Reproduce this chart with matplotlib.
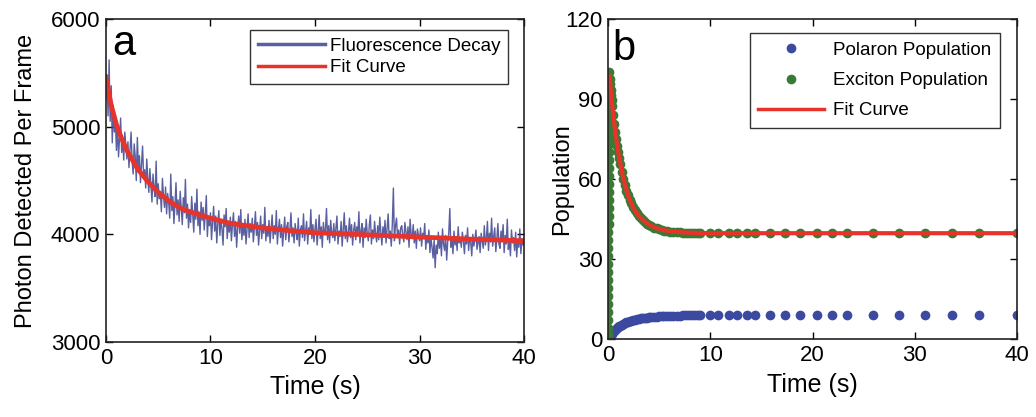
import numpy as np
import matplotlib
matplotlib.use("Agg")
import matplotlib.pyplot as plt

plt.rcParams['font.family'] = ['Liberation Sans', 'DejaVu Sans']

# ---- panel a: fluorescence trace (0.1 s per frame) ----
decay_counts = [
    5250, 5480, 5100, 5620, 5050, 5380, 4850, 5200, 4950, 5060, 4780, 5010, 4720, 4900, 5080, 4760, 4880, 4690, 4950, 4820,
    4700, 4860, 4620, 4790, 4950, 4680, 4560, 4840, 4720, 4500, 4900, 4610, 4730, 4480, 4650, 4820, 4540, 4600, 4430, 4700,
    4520, 4390, 4610, 4450, 4300, 4560, 4420, 4350, 4680, 4280, 4470, 4330, 4400, 4210, 4520, 4360, 4250, 4440, 4190, 4380,
    4300, 4150, 4560, 4220, 4350, 4100, 4280, 4480, 4180, 4320, 4120, 4400, 4250, 4090, 4340, 4200, 4510, 4150, 4280, 4060,
    4230, 4110, 4350, 4180, 4020, 4290, 4140, 4420, 4080, 4210, 4000, 4300, 4130, 4250, 4040, 4190, 4360, 3980, 4150, 4080,
    4200, 3950, 4120, 4260, 4030, 4170, 3920, 4100, 4220, 3990, 4140, 4050, 3900, 4180, 4070, 4240, 3960, 4110, 4020, 4160,
    3940, 4090, 4200, 3980, 4120, 3880, 4060, 4170, 4010, 4230, 3950, 4080, 3990, 4140, 3910, 4050, 4190, 3970, 4100, 4020,
    4150, 3930, 4060, 4210, 3990, 4110, 3900, 4040, 4170, 3960, 4090, 4010, 4250, 3940, 4070, 3980, 4130, 3920, 4050, 4180,
    3960, 4080, 4000, 4220, 3910, 4050, 4140, 3970, 4090, 3890, 4030, 4160, 3950, 4070, 4110, 3930, 4040, 4200, 3980, 4060,
    3920, 4100, 4010, 3950, 4150, 3890, 4040, 4080, 3970, 4190, 3940, 4030, 4120, 3910, 4060, 4000, 4230, 3960, 4090, 3930,
    4050, 4140, 3900, 4020, 4180, 3960, 4070, 3880, 4110, 4000, 4040, 4240, 3950, 4080, 3920, 4130, 4010, 3970, 4100, 3940,
    4060, 4170, 3910, 4030, 3980, 4120, 3890, 4050, 4200, 3960, 4080, 3930, 4020, 4150, 3970, 4090, 3900, 4040, 4110, 3950,
    4070, 3990, 4210, 3920, 4030, 4100, 3880, 4060, 3970, 4140, 4010, 3940, 4090, 4180, 3910, 4040, 3960, 4120, 4000, 3930,
    4080, 3950, 4160, 4020, 3900, 4070, 3980, 4130, 3920, 4050, 4190, 3960, 4030, 3890, 4100, 4430, 3940, 4080, 4150, 3970,
    4040, 3910, 4060, 4080, 3990, 3930, 4110, 4020, 3950, 4070, 3880, 4140, 4000, 3960, 4090, 3920, 4030, 3870, 4050, 3990,
    3940, 4060, 3890, 4010, 3970, 4100, 3860, 3990, 3920, 4040, 3830, 3960, 3880, 3780, 3950, 3690, 3900, 3820, 4020, 3870,
    3960, 3800, 4050, 3910, 3850, 3990, 3760, 3930, 4010, 4240, 3880, 3960, 3820, 4030, 3900, 3980, 3850, 4070, 3920, 3960,
    3880, 4020, 3940, 3820, 3990, 3910, 4060, 3850, 3970, 3930, 3800, 4000, 3890, 3950, 4040, 3860, 3920, 3980, 3830, 4010,
    3940, 3870, 4080, 3900, 3960, 4120, 3850, 4010, 3930, 4150, 3890, 3980, 4060, 3840, 3950, 4100, 3910, 3870, 4030, 3960,
    4090, 3830, 3990, 3910, 4140, 3860, 3950, 3800, 4040, 3920, 3970, 3850, 4020, 3790, 3940, 3880, 4050, 3820, 3960, 3900,
    3930,
]
decay_time = np.arange(len(decay_counts)) * 0.1

fit_a_time = [0, 0.5, 1, 1.5, 2, 3, 4, 5, 6, 7, 8, 10, 12, 15, 18, 20, 25, 30, 35, 40]
fit_a_counts = [5460, 5200, 5020, 4890, 4780, 4610, 4490, 4390, 4310, 4250, 4210, 4150,
                4100, 4060, 4030, 4015, 3995, 3975, 3955, 3940]

# ---- panel b: populations ----
rise_time = [0.0, 0.003, 0.006, 0.009, 0.012, 0.015, 0.018, 0.021, 0.024, 0.027, 0.030, 0.033,
             0.036, 0.039, 0.042, 0.045, 0.048, 0.051, 0.054, 0.057, 0.060, 0.063, 0.066, 0.069,
             0.072, 0.075, 0.078, 0.081, 0.084, 0.087, 0.090, 0.093, 0.096, 0.1]
rise_exciton = [0, 1, 2, 4, 7, 10, 13, 16, 19, 22, 25, 28, 31, 34, 37, 40, 43, 46, 49, 52,
                55, 58, 61, 64, 67, 70, 73, 76, 79, 82, 85, 88, 94, 100]
rise_polaron = [0, 0, 0, 0, 0, 0, 0, 0, 0.1, 0.1, 0.1, 0.1, 0.1, 0.1, 0.2, 0.2, 0.2, 0.2,
                0.2, 0.3, 0.3, 0.3, 0.3, 0.3, 0.4, 0.4, 0.4, 0.4, 0.5, 0.5, 0.5, 0.5, 0.6, 0.6]

pop_time = [0.15, 0.2, 0.25, 0.3, 0.35, 0.4, 0.5, 0.6, 0.7, 0.8, 0.9, 1.0, 1.1, 1.2, 1.35,
            1.5, 1.65, 1.8, 1.95, 2.1, 2.25, 2.4, 2.6, 2.8, 3.0, 3.2, 3.4, 3.6, 3.8, 4.0,
            4.25, 4.5, 4.75, 5.0, 5.25, 5.5, 5.8, 6.1, 6.4, 6.7, 7.0, 7.3, 7.6, 7.9, 8.2,
            8.5, 8.8, 9.0, 10.0, 10.8, 11.8, 12.6, 13.6, 14.4, 15.8, 17.3, 18.8, 20.4,
            21.9, 23.4, 25.9, 28.5, 31.0, 33.6, 36.3, 40.0]
exciton = [97.5, 95.5, 93.5, 91.5, 89.8, 87.5, 84.0, 80.8, 77.8, 75.0, 72.4, 70.0, 67.8,
           65.7, 62.7, 60.0, 57.7, 55.7, 53.9, 52.3, 50.9, 49.7, 48.3, 47.1, 46.1, 45.3,
           44.6, 43.9, 43.3, 42.8, 42.3, 41.8, 41.5, 41.2, 40.9, 40.7, 40.5, 40.3, 40.2,
           40.1, 40.0, 39.95, 39.9, 39.85, 39.8, 39.8, 39.75, 39.7, 39.7, 39.7, 39.7, 39.7,
           39.7, 39.7, 39.7, 39.7, 39.7, 39.7, 39.7, 39.7, 39.7, 39.7, 39.7, 39.7, 39.7, 39.7]
polaron = [0.8, 1.1, 1.4, 1.7, 2.0, 2.2, 2.7, 3.1, 3.5, 3.9, 4.2, 4.5, 4.8, 5.0, 5.4, 5.7,
           6.0, 6.2, 6.4, 6.6, 6.8, 7.0, 7.2, 7.4, 7.5, 7.7, 7.8, 7.9, 8.0, 8.1, 8.2, 8.3,
           8.4, 8.5, 8.55, 8.6, 8.65, 8.7, 8.75, 8.8, 8.8, 8.85, 8.85, 8.9, 8.9, 8.9, 8.95,
           9.0, 9.0, 9.0, 9.0, 9.0, 9.0, 9.0, 9.0, 9.0, 9.0, 9.0, 9.0, 9.0, 9.0, 9.0, 9.0,
           9.0, 9.0, 9.0]

fit_b_time = [0.15, 0.25, 0.35, 0.5, 0.7, 0.9, 1.1, 1.35, 1.65, 1.95, 2.25, 2.6, 3.0, 3.4,
              3.8, 4.25, 4.75, 5.25, 5.8, 6.4, 7.0, 7.9, 8.8, 10.0, 15.0, 20.0, 30.0, 40.0]
fit_b_pop = [98.5, 94.0, 90.0, 84.3, 78.0, 72.6, 68.0, 62.9, 57.9, 54.0, 51.0, 48.4, 46.2,
             44.7, 43.4, 42.4, 41.6, 41.0, 40.6, 40.3, 40.1, 39.9, 39.8, 39.7, 39.7, 39.7,
             39.7, 39.7]

blue_line = '#3d438f'
blue_dot = '#3b4aa0'
green_dot = '#3b7a35'
red = '#e8332b'

fig = plt.figure(figsize=(10.36, 4.17), dpi=100)
ax1 = fig.add_axes([0.1023, 0.1799, 0.4035, 0.7745])
ax2 = fig.add_axes([0.5869, 0.187, 0.3948, 0.767])

# panel a
ax1.plot(decay_time, decay_counts, color=blue_line, lw=1.0, alpha=0.85, label='Fluorescence Decay')
ax1.plot(fit_a_time, fit_a_counts, color=red, lw=3.4, label='Fit Curve')
ax1.set_xlim(0, 40)
ax1.set_ylim(3000, 6000)
ax1.set_xticks([0, 10, 20, 30, 40])
ax1.set_yticks([3000, 4000, 5000, 6000])
ax1.set_xlabel('Time (s)', fontsize=18, labelpad=5)
ax1.set_ylabel('Photon Detected Per Frame', fontsize=17, labelpad=10)
ax1.text(0.014, 0.889, 'a', transform=ax1.transAxes, fontsize=30)
leg1 = ax1.legend(loc='upper right', bbox_to_anchor=(0.962, 0.966), borderaxespad=0,
                  fontsize=13.5, fancybox=False, edgecolor='#333333', framealpha=1,
                  handlelength=3.6, handletextpad=0.25, labelspacing=0.25, borderpad=0.4)
for h in leg1.get_lines():
    h.set_linewidth(2.5)

# panel b
ax2.plot(rise_time + pop_time, rise_polaron + polaron, 'o', color=blue_dot, ms=7,
         mec='none', label='Polaron Population')
ax2.plot(rise_time + pop_time, rise_exciton + exciton, 'o', color=green_dot, ms=7,
         mec='none', label='Exciton Population')
ax2.plot(fit_b_time, fit_b_pop, color=red, lw=3.0, label='Fit Curve')
ax2.set_xlim(0, 40)
ax2.set_ylim(0, 120)
ax2.set_xticks([0, 10, 20, 30, 40])
ax2.set_yticks([0, 30, 60, 90, 120])
ax2.set_xlabel('Time (s)', fontsize=18, labelpad=5)
ax2.set_ylabel('Population', fontsize=17, labelpad=-6)
ax2.text(0.01, 0.872, 'b', transform=ax2.transAxes, fontsize=30)
leg2 = ax2.legend(loc='upper right', bbox_to_anchor=(0.958, 0.956), borderaxespad=0,
                  fontsize=13.5, fancybox=False, edgecolor='#333333', framealpha=1,
                  handlelength=3.5, handletextpad=0.5, labelspacing=0.7, borderpad=0.45,
                  numpoints=1)
for h in leg2.get_lines():
    if h.get_linestyle() == '-':
        h.set_linewidth(2.5)

for ax in (ax1, ax2):
    ax.tick_params(direction='in', length=5, width=1, labelsize=16, top=True, right=True, pad=4)
    for s in ax.spines.values():
        s.set_linewidth(1.2)
        s.set_color('#222222')

fig.savefig('out.png', dpi=100)
